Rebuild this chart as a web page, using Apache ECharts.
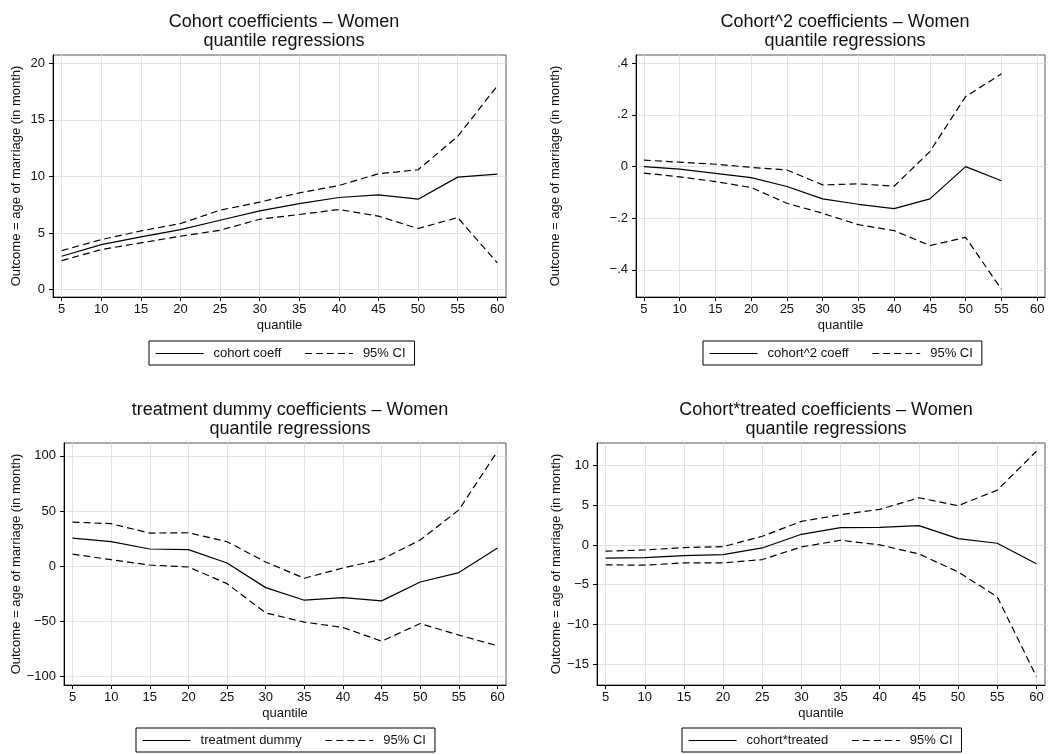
<!DOCTYPE html>
<html>
<head>
<meta charset="utf-8">
<script src="https://cdn.jsdelivr.net/npm/echarts@6/dist/echarts.min.js"></script>
<style>
html,body{margin:0;padding:0;background:#fff;}
#chart{width:1056px;height:754px;}
</style>
</head>
<body>
<div id="chart"></div>
<script>
// ---- data ----
const quantiles = [5, 10, 15, 20, 25, 30, 35, 40, 45, 50, 55, 60];

const cohortCoef  = [2.95, 3.98, 4.66, 5.30, 6.13, 6.96, 7.60, 8.14, 8.38, 7.99, 9.94, 10.20];
const cohortUpper = [3.45, 4.42, 5.19, 5.84, 7.02, 7.73, 8.55, 9.20, 10.24, 10.59, 13.54, 18.00];
const cohortLower = [2.57, 3.54, 4.13, 4.72, 5.25, 6.22, 6.64, 7.08, 6.49, 5.40, 6.37, 2.36];

const cohort2Coef  = [0.000, -0.010, -0.026, -0.043, -0.077, -0.125, -0.146, -0.163, -0.125, 0.000, -0.055, null];
const cohort2Upper = [0.025, 0.017, 0.009, -0.003, -0.013, -0.071, -0.067, -0.076, 0.058, 0.271, 0.359, null];
const cohort2Lower = [-0.025, -0.040, -0.058, -0.081, -0.142, -0.181, -0.225, -0.248, -0.306, -0.274, -0.475, null];

const treatCoef  = [25.6, 22.3, 15.7, 15.1, 3.0, -19.3, -30.7, -28.3, -31.3, -14.2, -5.7, 16.6];
const treatUpper = [40.1, 38.6, 30.1, 30.4, 22.3, 3.9, -10.8, -1.5, 6.3, 23.8, 51.2, 104.2];
const treatLower = [11.1, 6.0, 1.2, -0.6, -15.7, -42.2, -50.6, -55.4, -67.8, -51.8, -62.3, -72.0];

const ctCoef  = [-1.67, -1.59, -1.34, -1.21, -0.38, 1.34, 2.18, 2.22, 2.43, 0.79, 0.21, -2.38];
const ctUpper = [-0.79, -0.63, -0.33, -0.21, 1.09, 2.97, 3.81, 4.48, 5.94, 4.94, 6.90, 11.80];
const ctLower = [-2.51, -2.55, -2.26, -2.26, -1.84, -0.25, 0.59, 0.00, -1.13, -3.39, -6.53, -16.57];

const titles = [
  'Cohort coefficients \u2013 Women\nquantile regressions',
  'Cohort^2 coefficients \u2013 Women\nquantile regressions',
  'treatment dummy coefficients \u2013 Women\nquantile regressions',
  'Cohort*treated coefficients \u2013 Women\nquantile regressions'
];
const coefNames = ['cohort coeff', 'cohort^2 coeff', 'treatment dummy', 'cohort*treated'];
const ciName = '95% CI';
const yTicks = [
  [0, 5, 10, 15, 20],
  [-0.4, -0.2, 0, 0.2, 0.4],
  [-100, -50, 0, 50, 100],
  [-15, -10, -5, 0, 5, 10]
];
const xTicks = [5, 10, 15, 20, 25, 30, 35, 40, 45, 50, 55, 60];
const yName = 'Outcome = age of marriage (in month)';
const xName = 'quantile';

// ---- layout ----
const panels = [
  {grid:{left:53, top:55, width:453, height:242}, ymin:-0.65, ymax:20.73, nameGap:30, title:{x:279, y:8}, legend:{x:149, y:341}, data:[cohortCoef, cohortUpper, cohortLower]},
  {grid:{left:636, top:55, width:409, height:242}, ymin:-0.505, ymax:0.432, nameGap:74, title:{x:840, y:8}, legend:{x:703, y:341}, data:[cohort2Coef, cohort2Upper, cohort2Lower]},
  {grid:{left:64, top:443, width:442, height:242}, ymin:-107.5, ymax:111.7, nameGap:40, title:{x:285, y:396}, legend:{x:136, y:728}, data:[treatCoef, treatUpper, treatLower]},
  {grid:{left:597, top:443, width:448, height:242}, ymin:-17.64, ymax:12.84, nameGap:34, title:{x:821, y:396}, legend:{x:682, y:728}, data:[ctCoef, ctUpper, ctLower]}
];

const FONT = '"Liberation Sans", Arial, Helvetica, sans-serif';
const TXT = '#111';

function fmt(v) {
  let s = String(Math.round(v * 1000) / 1000);
  s = s.replace(/^(-?)0\./, '$1.');
  return s.replace('-', '\u2212');
}

const option = {
  animation: false,
  backgroundColor: '#fff',
  textStyle: {fontFamily: FONT},
  title: [], legend: [], grid: [], xAxis: [], yAxis: [], series: []
};

panels.forEach((p, i) => {
  option.title.push({
    text: titles[i], left: p.title.x, top: p.title.y, textAlign: 'center',
    textStyle: {fontFamily: FONT, fontSize: 18, fontWeight: 'normal', color: TXT, lineHeight: 19}
  });
  option.grid.push(Object.assign({show: true, borderColor: '#555', borderWidth: 1, backgroundColor: '#fff'}, p.grid));
  option.xAxis.push({
    type: 'value', gridIndex: i, min: 3.9, max: 61.1,
    name: xName, nameLocation: 'middle', nameGap: 22,
    nameTextStyle: {fontFamily: FONT, fontSize: 13, color: TXT},
    axisLine: {show: true, onZero: false, lineStyle: {color: '#000', width: 1}},
    axisTick: {show: true, length: 4, customValues: xTicks, lineStyle: {color: '#000'}},
    axisLabel: {customValues: xTicks, margin: 6, fontFamily: FONT, fontSize: 13, color: TXT},
    splitLine: {show: true, lineStyle: {color: '#e2e2e2', width: 1}}
  });
  option.yAxis.push({
    type: 'value', gridIndex: i, min: p.ymin, max: p.ymax,
    name: yName, nameLocation: 'middle', nameGap: p.nameGap,
    nameTextStyle: {fontFamily: FONT, fontSize: 13, color: TXT},
    axisLine: {show: true, onZero: false, lineStyle: {color: '#000', width: 1}},
    axisTick: {show: true, length: 4, customValues: yTicks[i], lineStyle: {color: '#000'}},
    axisLabel: {customValues: yTicks[i], margin: 8, fontFamily: FONT, fontSize: 13, color: TXT, formatter: fmt},
    splitLine: {show: true, lineStyle: {color: '#e2e2e2', width: 1}}
  });
  const mk = (arr) => quantiles.map((q, k) => [q, arr[k]]);
  option.series.push({
    type: 'line', name: coefNames[i], xAxisIndex: i, yAxisIndex: i, data: mk(p.data[0]),
    symbol: 'none', connectNulls: false, lineStyle: {color: '#000', width: 1.2, type: 'solid'}, itemStyle: {color: '#000'}
  });
  [1, 2].forEach(j => option.series.push({
    type: 'line', name: ciName, xAxisIndex: i, yAxisIndex: i, data: mk(p.data[j]),
    symbol: 'none', connectNulls: false, lineStyle: {color: '#000', width: 1.2, type: [7, 4]}, itemStyle: {color: '#000'}
  }));
  option.legend.push({
    data: [coefNames[i], ciName], left: p.legend.x, top: p.legend.y,
    orient: 'horizontal', itemWidth: 48, itemHeight: 12, itemGap: 23,
    padding: [6, 9, 5, 6], borderColor: '#000', borderWidth: 1, backgroundColor: '#fff',
    selectedMode: false,
    itemStyle: {opacity: 0, borderWidth: 0},
    lineStyle: {width: 1.2},
    textStyle: {fontFamily: FONT, fontSize: 13, color: TXT, padding: [0, 0, 0, 5]}
  });
});

const chart = echarts.init(document.getElementById('chart'), null, {renderer: 'canvas'});
chart.setOption(option);
</script>
</body>
</html>
